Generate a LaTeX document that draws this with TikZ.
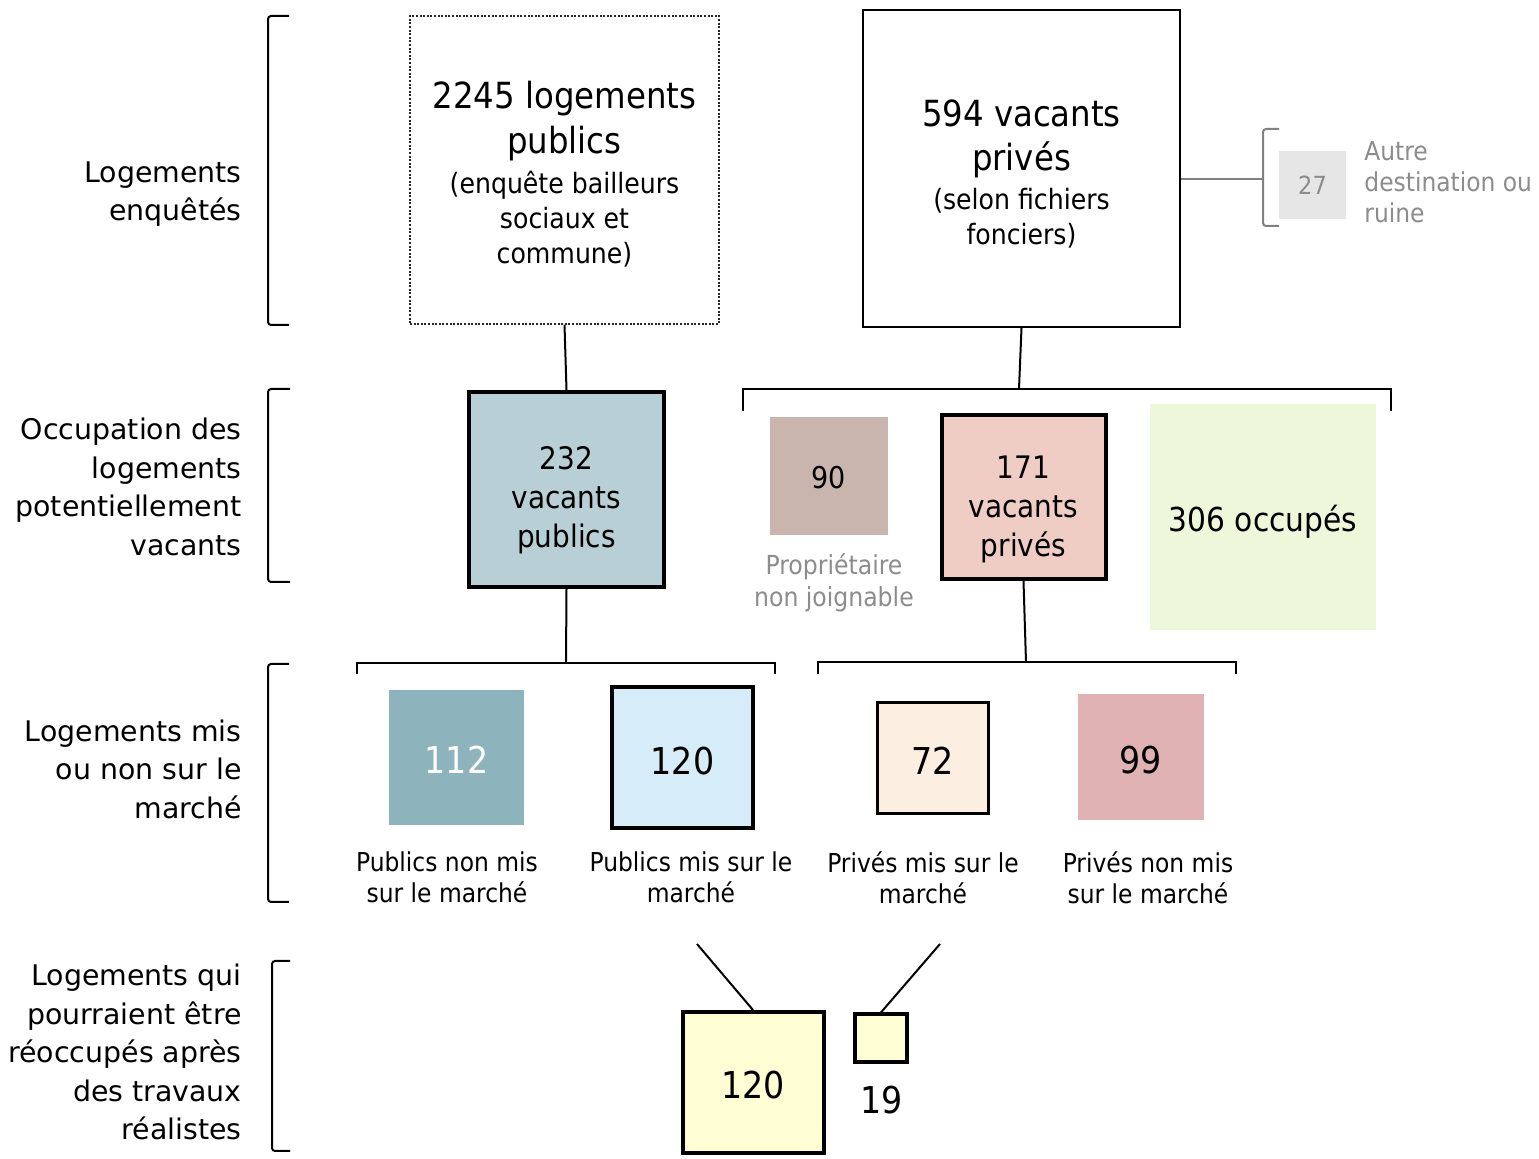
\documentclass[tikz,border=0pt]{standalone}
\usepackage{fontspec}
\setmainfont{DejaVu Sans}
\newfontfamily\condfont{DejaVu Sans Condensed}
\definecolor{greytxt}{HTML}{8C8C8C}
\definecolor{greyline}{HTML}{808080}
\definecolor{grey27}{HTML}{E6E6E6}
\definecolor{pubvac}{HTML}{B7CFD5}
\definecolor{brown90}{HTML}{C9B4AE}
\definecolor{privvac}{HTML}{EFCCC4}
\definecolor{occgreen}{HTML}{EDF7DA}
\definecolor{pubnon}{HTML}{8DB3BC}
\definecolor{pubmis}{HTML}{D6ECF8}
\definecolor{privmis}{HTML}{FDEEE2}
\definecolor{privnon}{HTML}{E0B2B4}
\definecolor{reocc}{HTML}{FEFDD4}
\begin{document}
\begin{tikzpicture}[x=0.5pt, y=-0.5pt,
      box/.style={draw=none, inner sep=0pt, align=center, font=\condfont},
      thickbox/.style={box, draw=black, line width=2pt},
      rowlabel/.style={anchor=east, align=right, inner sep=0pt, font=\fontsize{14.2}{19.25}\selectfont},
      caption/.style={align=center, inner sep=0pt, font=\condfont\fontsize{13}{15.5}\selectfont},
      link/.style={line width=1pt},
      bracket/.style={line width=1pt, rounded corners=1.5pt}]
      \useasboundingbox (0,0) rectangle (1539,1159);

      % Define row labels
      \node[rowlabel] (lab1) at (242,194) {Logements\\enquêtés};
      \node[rowlabel] (lab2) at (242,487) {Occupation des\\logements\\potentiellement\\vacants};
      \node[rowlabel] (lab3) at (242,769) {Logements mis\\ou non sur le\\marché};
      \node[rowlabel] (lab4) at (242,1052) {Logements qui\\pourraient être\\réoccupés après\\des travaux\\réalistes};

      % Brackets of the rows
      \draw[bracket] (289,16) -- (268,16) -- (268,325) -- (289,325);
      \draw[bracket] (290,389) -- (268,389) -- (268,582) -- (290,582);
      \draw[bracket] (289,664) -- (268,664) -- (268,902) -- (289,902);
      \draw[bracket] (290,961) -- (272,961) -- (272,1151) -- (290,1151);

      % Define nodes of the surveyed housing
      \node[box, draw=black!85, dash pattern=on 1pt off 0.8pt, line width=0.6pt,
            minimum width=154.5pt, minimum height=154pt,
            font=\condfont\fontsize{14}{17.5}\selectfont] (pub) at (564.5,170)
            {{\fontsize{18}{22}\selectfont\rule{0pt}{17.7pt}2245 logements}\\[5pt]
             {\fontsize{18}{22}\selectfont publics}\\[2.5pt]
             (enquête bailleurs\\sociaux et\\commune)};
      \node[box, draw=black, line width=1.1pt,
            minimum width=158.5pt, minimum height=158.5pt,
            font=\condfont\fontsize{14}{17.5}\selectfont] (priv) at (1021.5,168.5)
            {{\fontsize{18}{22}\selectfont\rule{0pt}{18.5pt}594 vacants}\\[4.5pt]
             {\fontsize{18}{22}\selectfont privés}\\[2pt]
             (selon fichiers\\fonciers)};
      \node[box, fill=grey27, minimum width=33.5pt, minimum height=34pt, text=greytxt,
            font=\condfont\fontsize{12.5}{15}\selectfont] (b27) at (1312.5,185) {27};
      \node[anchor=west, align=left, inner sep=0pt, text=greytxt,
            font=\condfont\fontsize{13}{15.5}\selectfont] (autre) at (1364,182.5)
            {Autre\\destination ou\\ruine};

      % Define nodes of the occupation
      \node[thickbox, fill=pubvac, minimum size=97.5pt,
            font=\condfont\fontsize{15.5}{19.5}\selectfont] (b232) at (566.5,489.5)
            {\rule{0pt}{22.3pt}232\\vacants\\publics};
      \node[box, fill=brown90, minimum size=59pt,
            font=\condfont\fontsize{15}{17}\selectfont] (b90) at (829,476) {\rule{0pt}{12.5pt}90};
      \node[caption, text=greytxt, font=\condfont\fontsize{13.1}{16}\selectfont] (cap90)
            at (834,583) {Propriétaire\\non joignable};
      \node[thickbox, fill=privvac, minimum size=82pt,
            font=\condfont\fontsize{15.5}{19.5}\selectfont] (b171) at (1023.5,497)
            {\rule{0pt}{23.3pt}171\\vacants\\privés};
      \node[box, fill=occgreen, minimum size=113pt,
            font=\condfont\fontsize{16.5}{20}\selectfont] (b306) at (1263,517.5)
            {\rule{0pt}{17.5pt}306 occupés};

      % Define nodes of the market
      \node[box, fill=pubnon, minimum size=67.5pt, text=white,
            font=\condfont\fontsize{18.5}{22}\selectfont] (b112) at (456.5,757.5) {\rule{0pt}{16.5pt}112};
      \node[thickbox, fill=pubmis, minimum size=70.5pt,
            font=\condfont\fontsize{18.5}{22}\selectfont] (b120a) at (682.5,758) {\rule{0pt}{16.5pt}120};
      \node[box, draw=black, line width=1.6pt, fill=privmis, minimum size=55.5pt,
            font=\condfont\fontsize{18.5}{22}\selectfont] (b72) at (933,758) {\rule{0pt}{16.5pt}72};
      \node[box, fill=privnon, minimum size=63pt,
            font=\condfont\fontsize{18.5}{22}\selectfont] (b99) at (1141,757.5) {\rule{0pt}{16.5pt}99};
      \node[caption] (cap112) at (447,877.5) {Publics non mis\\sur le marché};
      \node[caption] (cap120) at (691,877.5) {Publics mis sur le\\marché};
      \node[caption] (cap72) at (923,877.5) {Privés mis sur le\\marché};
      \node[caption] (cap99) at (1148,877.5) {Privés non mis\\sur le marché};

      % Define nodes of the reoccupation
      \node[thickbox, fill=reocc, minimum size=70.5pt,
            font=\condfont\fontsize{18.5}{22}\selectfont] (b120b) at (753,1082.5) {\rule{0pt}{16.5pt}120};
      \node[box, draw=black, line width=1.6pt, fill=reocc,
            minimum width=26pt, minimum height=24pt] (b19) at (881,1038) {};
      \node[box, font=\condfont\fontsize{18.5}{22}\selectfont] (n19) at (882,1100) {19};

      % Connect nodes with lines
      \coordinate (privfork) at (1019,389);
      \coordinate (b27fork) at (1263,179);
      \coordinate (pubfork) at (566,663);
      \coordinate (b171fork) at (1026,662);
      \coordinate (frompub) at (697,944);
      \coordinate (frompriv) at (940,944);
      \draw[link] (pub.south) -- (b232.north);
      \draw[link] (priv.south) -- (privfork);
      \draw[link, draw=greyline] (priv.east |- b27fork) -- (b27fork);
      \draw[link] (b232.south) -- (pubfork);
      \draw[link] (b171.south) -- (b171fork);
      \draw[link] (frompub) -- (b120b.north);
      \draw[link] (frompriv) -- (b19.north);

      % Forks under the nodes
      \draw[link] (743,411) -- (743,389) -- (1391,389) -- (1391,411);
      \draw[bracket, draw=greyline] (1279,129) -- (1263,129) -- (1263,226) -- (1279,226);
      \draw[link] (357,674) -- (357,663) -- (775,663) -- (775,674);
      \draw[link] (818,674) -- (818,662) -- (1236,662) -- (1236,674);
    \end{tikzpicture}
\end{document}
